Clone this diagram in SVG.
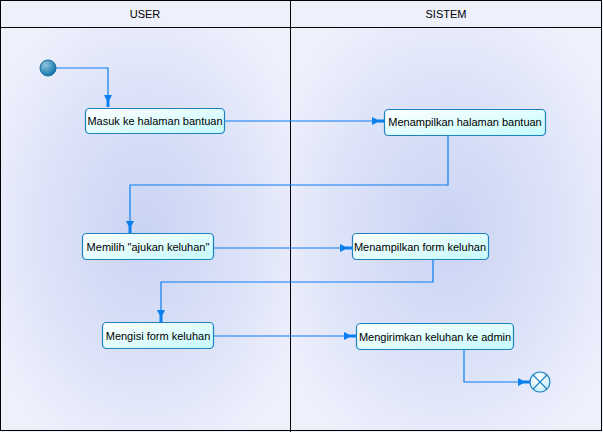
<svg xmlns="http://www.w3.org/2000/svg" width="603" height="432" viewBox="0 0 603 432">
<defs>
<radialGradient id="lane" cx="50%" cy="50%" r="60%">
<stop offset="0" stop-color="#c9d3f3"/>
<stop offset="0.6" stop-color="#dde3f8"/>
<stop offset="1" stop-color="#eef0fc"/>
</radialGradient>
<linearGradient id="nodeg" x1="0" y1="0" x2="1" y2="1">
<stop offset="0" stop-color="#ffffff"/>
<stop offset="1" stop-color="#c4fbfd"/>
</linearGradient>
<radialGradient id="startg" cx="35%" cy="30%" r="70%">
<stop offset="0" stop-color="#8fc3dd"/>
<stop offset="1" stop-color="#1577ae"/>
</radialGradient>
<radialGradient id="endg" cx="40%" cy="35%" r="70%">
<stop offset="0" stop-color="#ffffff"/>
<stop offset="1" stop-color="#c8eefa"/>
</radialGradient>
<marker id="arr" markerWidth="12" markerHeight="10" refX="12" refY="5" orient="auto" markerUnits="userSpaceOnUse">
<path d="M0,1 L5,3.5 L12,3.5 L12,6.5 L5,6.5 L0,9 Z" fill="#0a7ff0"/>
</marker>
<style>
.lanehdr{fill:#eef0fc;stroke:#000;stroke-width:1}
.hdr{font-family:"Liberation Sans",Arial,sans-serif;font-size:11px;fill:#000;text-anchor:middle}
.node rect{fill:url(#nodeg);stroke:#1e82c0;stroke-width:1.2}
.node text{font-family:"Liberation Sans",Arial,sans-serif;font-size:11px;fill:#000;text-anchor:middle}
.conn path{fill:none;stroke:#0a7ff0;stroke-width:1.2;marker-end:url(#arr)}
</style>
</defs>
<rect x="0" y="0" width="603" height="432" fill="#eef0fc"/>
<g id="lanes">
<rect x="0.5" y="27.5" width="290" height="404" fill="url(#lane)"/>
<rect x="290.5" y="27.5" width="312" height="404" fill="url(#lane)"/>
<rect class="lanehdr" x="0.5" y="0.5" width="290" height="27"/>
<rect class="lanehdr" x="290.5" y="0.5" width="311" height="27"/>
<text class="hdr" x="145" y="18">USER</text>
<text class="hdr" x="446" y="18">SISTEM</text>
<rect x="0.5" y="0.5" width="601" height="430" fill="none" stroke="#000"/>
<line x1="290.5" y1="0" x2="290.5" y2="432" stroke="#000"/>
</g>
<g id="connectors" class="conn">
<path d="M56,68 H108 V107"/>
<path d="M225,121 H384"/>
<path d="M448,135 V185 H130 V233"/>
<path d="M213,248 H352"/>
<path d="M433,260 V282 H161 V322"/>
<path d="M213,336 H356"/>
<path d="M464,350 V382 H530"/>
</g>
<g id="start"><circle cx="48" cy="68" r="8" fill="url(#startg)" stroke="#1b6a9a" stroke-width="1"/></g>
<g id="n1" class="node"><rect x="85.5" y="108.5" width="139" height="25" rx="4"/><text x="155" y="125">Masuk ke halaman bantuan</text></g>
<g id="n2" class="node"><rect x="384.5" y="109.5" width="161" height="26" rx="4"/><text x="465" y="126">Menampilkan halaman bantuan</text></g>
<g id="n3" class="node"><rect x="82.5" y="233.5" width="131" height="26" rx="4"/><text x="148" y="251">Memilih "ajukan keluhan"</text></g>
<g id="n4" class="node"><rect x="352.5" y="233.5" width="136" height="26" rx="4"/><text x="420" y="251">Menampilkan form keluhan</text></g>
<g id="n5" class="node"><rect x="102.5" y="322.5" width="111" height="26" rx="4"/><text x="158" y="340">Mengisi form keluhan</text></g>
<g id="n6" class="node"><rect x="356.5" y="323.5" width="157" height="26" rx="4"/><text x="435" y="341">Mengirimkan keluhan ke admin</text></g>
<g id="end"><circle cx="540" cy="382" r="10" fill="url(#endg)" stroke="#1e82c0" stroke-width="1.2"/><path d="M533,375 L547,389 M547,375 L533,389" stroke="#1e82c0" stroke-width="1.2"/></g>
</svg>
